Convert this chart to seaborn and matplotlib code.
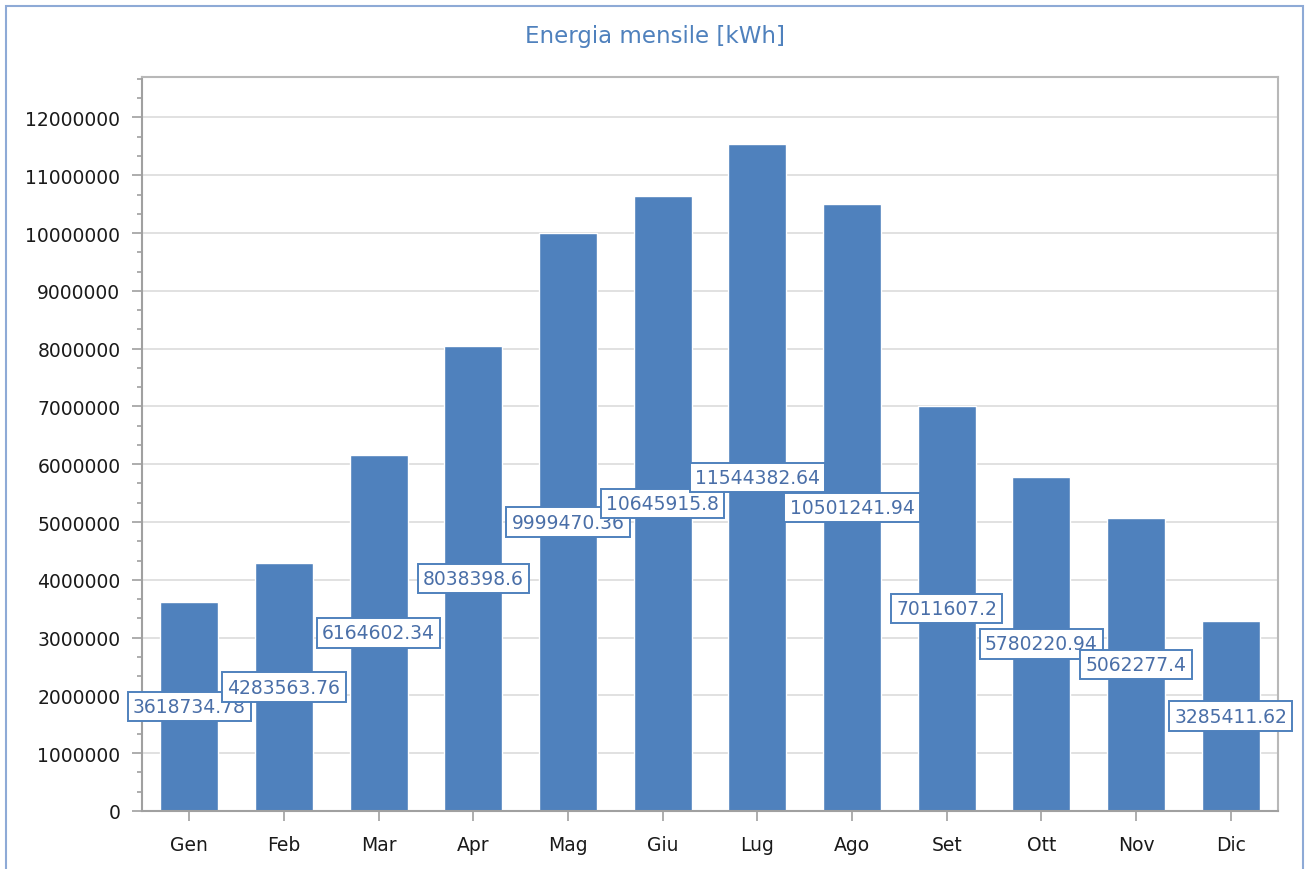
import numpy as np
import pandas as pd
import seaborn as sns
import matplotlib
matplotlib.use("Agg")
import matplotlib.pyplot as plt
from matplotlib.ticker import MultipleLocator
from matplotlib.patches import Rectangle

# Monthly energy
mesi = ["Gen", "Feb", "Mar", "Apr", "Mag", "Giu", "Lug", "Ago", "Set", "Ott", "Nov", "Dic"]
energia = [3618734.78, 4283563.76, 6164602.34, 8038398.6, 9999470.36, 10645915.8,
           11544382.64, 10501241.94, 7011607.2, 5780220.94, 5062277.4, 3285411.62]
etichette = ["3618734.78", "4283563.76", "6164602.34", "8038398.6", "9999470.36", "10645915.8",
             "11544382.64", "10501241.94", "7011607.2", "5780220.94", "5062277.4", "3285411.62"]

df = pd.DataFrame({"mese": mesi, "energia": energia})

sns.set_style("white")
plt.rcParams["font.family"] = ["DejaVu Sans"]

fig = plt.figure(figsize=(13.05, 8.7), dpi=100)
ax = fig.add_axes([0.1088, 0.0667, 0.8705, 0.8436])

sns.barplot(data=df, x="mese", y="energia", color="#4f81bd", saturation=1,
            width=0.61, ax=ax, zorder=2)

# labels at half height, centred on bars
for i, (v, t) in enumerate(zip(energia, etichette)):
    ax.text(i, v / 2, t, ha="center", va="center", fontsize=13.5, color="#4a6fa8",
            zorder=5,
            bbox=dict(boxstyle="square,pad=0.28", fc="white", ec="#4f81bd", lw=1.4))

ax.set_xlim(-0.5, 11.5)
ax.set_ylim(0, 12.7e6)
ax.yaxis.set_major_locator(MultipleLocator(1e6))
ax.yaxis.set_minor_locator(MultipleLocator(1e6 / 3))
ax.yaxis.set_major_formatter(matplotlib.ticker.FuncFormatter(lambda v, p: f"{int(round(v))}"))
ax.grid(axis="y", which="major", color="#dcdcdc", lw=1.2, zorder=0)
ax.set_axisbelow(True)

ax.tick_params(axis="y", which="major", direction="out", length=7.5, width=1.2,
               color="#a0a0a0", labelsize=13.5, labelcolor="#1a1a1a", pad=8, left=True)
ax.tick_params(axis="y", which="minor", direction="out", length=3.6, width=1.2,
               color="#a0a0a0", left=True)
ax.tick_params(axis="x", direction="out", length=7, width=1.2, color="#a0a0a0",
               labelsize=13.5, labelcolor="#1a1a1a", pad=10, bottom=True)

ax.set_xlabel("")
ax.set_ylabel("")

for s in ["left", "bottom"]:
    ax.spines[s].set_color("#a0a0a0")
    ax.spines[s].set_linewidth(1.5)
for s in ["top", "right"]:
    ax.spines[s].set_color("#b8b8b8")
    ax.spines[s].set_linewidth(1.5)

fig.text(0.502, 0.958, "Energia mensile [kWh]", ha="center", va="center",
         fontsize=16.5, color="#4f81bd")

# outer frame
fig.patches.append(Rectangle((6 / 1305, -0.02), 1297 / 1305, 1.02 - 6.5 / 870,
                             transform=fig.transFigure, fill=False,
                             ec="#8eaad6", lw=1.5, clip_on=False))

fig.savefig("out.png", dpi=100)
